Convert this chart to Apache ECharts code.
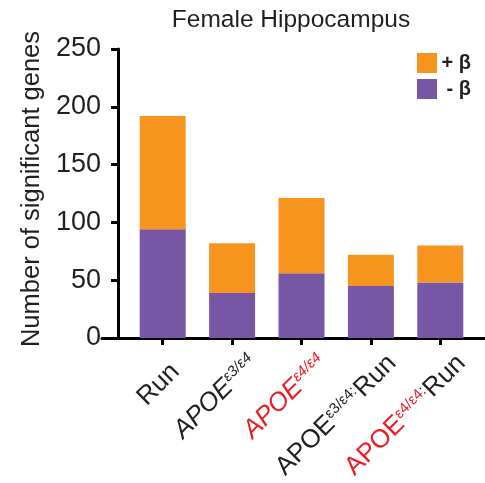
<!DOCTYPE html>
<html>
<head>
<meta charset="utf-8">
<script src="https://cdn.jsdelivr.net/npm/echarts@6/dist/echarts.min.js"></script>
<style>html,body{margin:0;padding:0;background:#fff}#c{width:485px;height:483px}</style>
</head>
<body>
<div id="c"></div>
<script>
const categories = ['Run', 'APOE3/4', 'APOE4/4', 'APOE3/4:Run', 'APOE4/4:Run'];
const minusBeta = [94, 39, 56, 45, 48];
const plusBeta = [98, 43, 65, 27, 32];
const yTicks = [0, 50, 100, 150, 200, 250];
const seriesNames = ['+ β', '- β'];

const FONT = '"Liberation Sans", Arial, Helvetica, sans-serif';
const BLACK = '#231F20';
const RED = '#ED1C24';
const labelRich = [
  '{a|Run}{sp| }',
  '{ai|APOE}{si|ε3/ε4}',
  '{ar|APOE}{sr|ε4/ε4}',
  '{a|APOE}{s|ε3/ε4:}{a|Run}',
  '{ar2|APOE}{sr2|ε4/ε4}{s|:}{a|Run}'
];
const big = 26, small = 15;
const chart = echarts.init(document.getElementById('c'), null, {renderer: 'canvas'});
chart.setOption({
  animation: false,
  backgroundColor: '#fff',
  title: {
    text: 'Female Hippocampus',
    left: 291, top: 8, textAlign: 'center', padding: 0,
    textStyle: {fontFamily: FONT, fontSize: 24.5, fontWeight: 'normal', color: BLACK}
  },
  legend: {
    data: seriesNames,
    orient: 'vertical',
    left: 417, top: 53, padding: 0,
    itemWidth: 20, itemHeight: 20, itemGap: 6,
    icon: 'rect',
    formatter: n => '{t|' + n + '}',
    textStyle: {
      fontFamily: FONT, fontSize: 20, fontWeight: 'bold', color: BLACK,
      rich: {t: {fontFamily: FONT, fontSize: 20, fontWeight: 'bold', color: BLACK, width: 29, align: 'right'}}
    }
  },
  grid: [
    {left: 128, right: 10, top: 49, bottom: 145, containLabel: false, outerBoundsMode: 'none'},
    {left: 102, right: 0, top: 49, bottom: 145, containLabel: false, outerBoundsMode: 'none'}
  ],
  xAxis: [
    {
      type: 'category', gridIndex: 0, data: categories,
      axisLine: {show: false},
      axisTick: {show: true, alignWithLabel: true, length: 7, lineStyle: {color: '#000', width: 3}},
      axisLabel: {
        interval: 0, rotate: 45, margin: 0,
        verticalAlign: 'top', padding: [17, 0, 0, 0],
        formatter: (v, i) => labelRich[i],
        rich: {
          a: {fontFamily: FONT, fontSize: big, color: BLACK},
          sp: {fontFamily: FONT, fontSize: big, width: 12},
          ai: {fontFamily: FONT, fontSize: big, color: BLACK, fontStyle: 'italic'},
          si: {fontFamily: FONT, fontSize: small, color: BLACK, fontStyle: 'italic', verticalAlign: 'top'},
          ar: {fontFamily: FONT, fontSize: big, color: RED, fontStyle: 'italic'},
          sr: {fontFamily: FONT, fontSize: small, color: RED, fontStyle: 'italic', verticalAlign: 'top'},
          s: {fontFamily: FONT, fontSize: small, color: BLACK, verticalAlign: 'top'},
          ar2: {fontFamily: FONT, fontSize: big, color: RED},
          sr2: {fontFamily: FONT, fontSize: small, color: RED, verticalAlign: 'top'}
        }
      }
    },
    {
      type: 'value', gridIndex: 1, min: 0, max: 1,
      axisLine: {show: true, onZero: false, lineStyle: {color: '#000', width: 3}},
      axisTick: {show: false}, axisLabel: {show: false}, splitLine: {show: false}
    }
  ],
  yAxis: [
    {
      type: 'value', gridIndex: 0, min: 0, max: 250, interval: 50, offset: 10,
      name: 'Number of significant genes', nameLocation: 'middle', nameGap: 72, nameRotate: 90,
      nameTextStyle: {fontFamily: FONT, fontSize: 25.5, color: BLACK, padding: [0, 0, 0, 9]},
      axisLine: {show: true, lineStyle: {color: '#000', width: 3}},
      axisTick: {show: true, length: 7, lineStyle: {color: '#000', width: 3}},
      axisLabel: {
        margin: 17, fontFamily: FONT, fontSize: 27, color: BLACK,
        formatter: v => (yTicks.indexOf(v) >= 0 ? String(v) : '')
      },
      splitLine: {show: false}
    },
    {
      type: 'value', gridIndex: 1, show: false, min: 0, max: 1
    }
  ],
  series: [
    {
      name: '- β', type: 'bar', stack: 'total', data: minusBeta, barWidth: 46,
      xAxisIndex: 0, yAxisIndex: 0,
      itemStyle: {color: '#7757A5'}
    },
    {
      name: '+ β', type: 'bar', stack: 'total', data: plusBeta, barWidth: 46,
      xAxisIndex: 0, yAxisIndex: 0,
      itemStyle: {color: '#F7941E'}
    }
  ]
});
</script>
</body>
</html>
